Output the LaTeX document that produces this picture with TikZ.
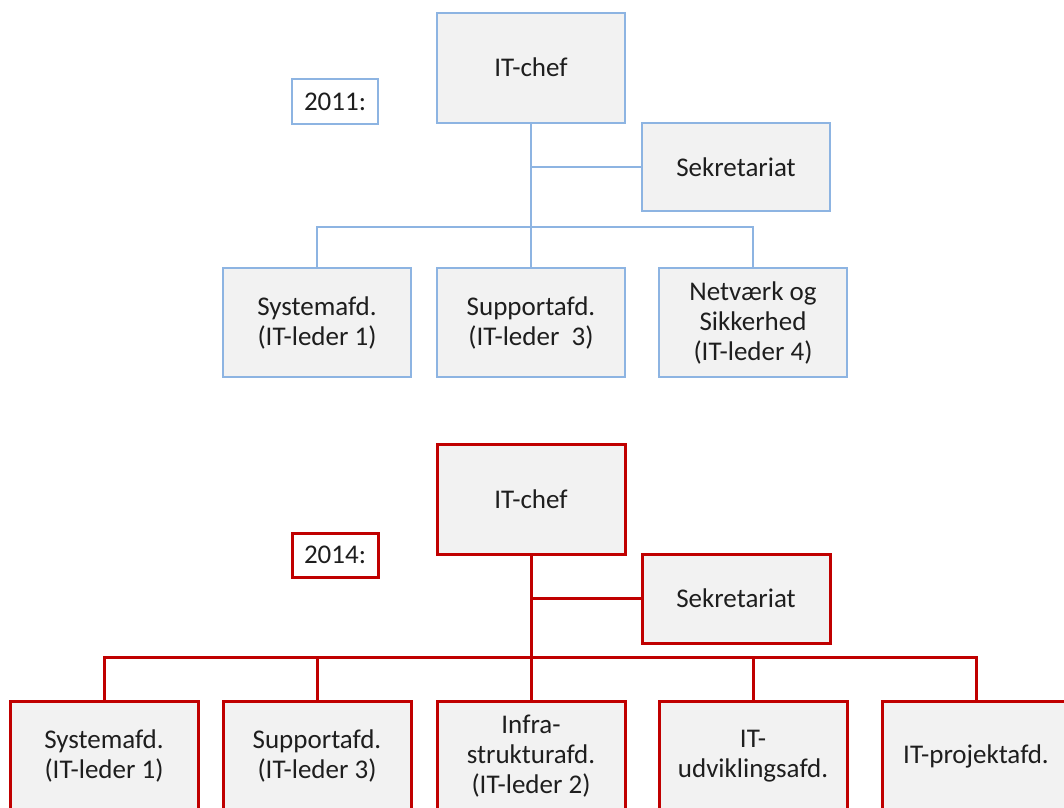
\documentclass[tikz,border=0pt]{standalone}
\usepackage{fontspec}
\setmainfont{Carlito}
\definecolor{bluelin}{RGB}{141,180,226}
\definecolor{redlin}{RGB}{192,0,0}
\definecolor{boxfill}{RGB}{242,242,242}
\definecolor{txt}{RGB}{30,30,30}
\tikzset{
  every node/.style={font=\fontsize{27}{30}\selectfont, text=txt, align=center, inner sep=0pt},
  bluebox/.style={draw=bluelin, line width=2pt, fill=boxfill, minimum width=188pt, minimum height=109pt},
  redbox/.style={draw=redlin, line width=3pt, fill=boxfill, minimum width=188pt, minimum height=110pt},
  bluelabel/.style={draw=bluelin, line width=2pt, fill=white, minimum width=86pt, minimum height=45pt},
  redlabel/.style={draw=redlin, line width=3pt, fill=white, minimum width=86pt, minimum height=44pt},
  blueline/.style={draw=bluelin, line width=2pt},
  redline/.style={draw=redlin, line width=3pt},
}
\begin{document}
\begin{tikzpicture}[x=1pt,y=-1pt]
\clip (0,0) rectangle (1064,807);
\fill[white] (0,0) rectangle (1064,807);
% ---------- 2011 ----------
\coordinate (busA) at (531,227);
\node[bluelabel] (y11) at (335,101.5) {2011:};
\node[bluebox, minimum height=110pt] (chefA) at (531,67.5) {IT-chef};
\node[bluebox, minimum height=88pt] (sekA) at (736,167) {Sekretariat};
\node[bluebox] (sysA) at (317,322.5) {Systemafd.\\(IT-leder 1)};
\node[bluebox] (supA) at (531,322.5) {Supportafd.\\(IT-leder\ \ 3)};
\node[bluebox] (netA) at (753,322.5) {Netværk og\\Sikkerhed\\(IT-leder 4)};
\draw[blueline] (chefA.south) -- (supA.north);
\draw[blueline] (chefA.south |- sekA.west) -- (sekA.west);
\draw[blueline] (sysA.north) |- (busA) -| (netA.north);
% ---------- 2014 ----------
\coordinate (busB) at (531,657);
\node[redlabel] (y14) at (335,555) {2014:};
\node[redbox] (chefB) at (531,499) {IT-chef};
\node[redbox, minimum height=89pt] (sekB) at (736,598.5) {Sekretariat};
\node[redbox] (b1) at (104,756) {Systemafd.\\(IT-leder 1)};
\node[redbox] (b2) at (317,756) {Supportafd.\\(IT-leder 3)};
\node[redbox] (b3) at (531,756) {Infra-\\strukturafd.\\(IT-leder 2)};
\node[redbox] (b4) at (753,756) {IT-\\udviklingsafd.};
\node[redbox] (b5) at (976,756) {IT-projektafd.};
\draw[redline] (chefB.south) -- (b3.north);
\draw[redline] (chefB.south |- sekB.west) -- (sekB.west);
\draw[redline] (b1.north) |- (busB) -| (b5.north);
\draw[redline] (b2.north) -- (b2.north |- busB);
\draw[redline] (b4.north) -- (b4.north |- busB);
\end{tikzpicture}
\end{document}
